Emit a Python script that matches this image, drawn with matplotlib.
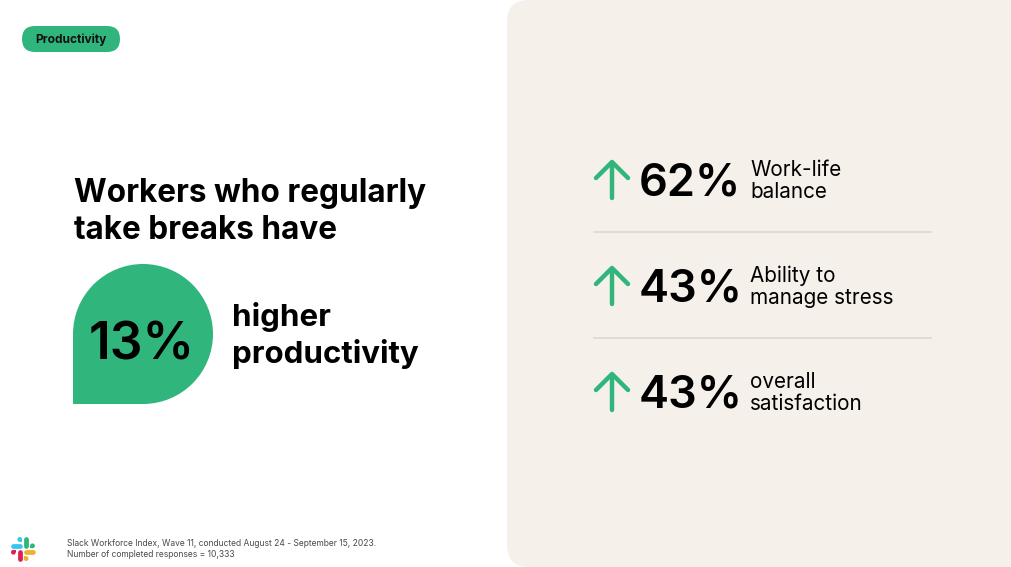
import matplotlib
matplotlib.use("Agg")
import matplotlib.pyplot as plt
from matplotlib.patches import FancyBboxPatch, Circle, Rectangle
from matplotlib.lines import Line2D

# ---- data ----
badge_text = "Productivity"
headline_lines = ["Workers who regularly", "take breaks have"]
headline_value = 13
headline_suffix = ["higher", "productivity"]
stat_values = [62, 43, 43]
stat_labels = [["Work-life", "balance"],
               ["Ability to", "manage stress"],
               ["overall", "satisfaction"]]
footnote_lines = ["Slack Workforce Index, Wave 11, conducted August 24 - September 15, 2023.",
                  "Number of completed responses = 10,333"]

GREEN = "#30B57D"
PANEL = "#F5F0E9"
FONT = ["Inter", "DejaVu Sans"]
plt.rcParams['font.family'] = FONT

W, H = 1012, 567
fig = plt.figure(figsize=(W / 100, H / 100), dpi=100)
ax = fig.add_axes([0, 0, 1, 1])
ax.set_xlim(0, W)
ax.set_ylim(H, 0)
ax.axis("off")
fig.patch.set_facecolor("white")

# right panel
ax.add_patch(FancyBboxPatch((507, 0), 560, H, boxstyle="round,pad=0,rounding_size=22",
                            fc=PANEL, ec="none", zorder=1))

# badge
ax.add_patch(FancyBboxPatch((22, 26), 98, 26, boxstyle="round,pad=0,rounding_size=13",
                            fc=GREEN, ec="none", zorder=2))
ax.text(71, 39.5, badge_text, ha="center", va="center", fontsize=8.6,
        fontweight="bold", color="#111111", zorder=3)

# headline
for i, line in enumerate(headline_lines):
    ax.text(74, 202 + i * 37, line, ha="left", va="baseline", fontsize=22.7,
            fontweight="bold", color="#000000", zorder=3)

# teardrop
cx, cy, r = 143, 334, 70
ax.add_patch(Circle((cx, cy), r, fc=GREEN, ec="none", zorder=2))
ax.add_patch(Rectangle((cx - r, cy), r, r, fc=GREEN, ec="none", zorder=2))
ax.text(cx - 1, 360, f"{headline_value}%", ha="center", va="baseline", fontsize=37,
        fontweight="semibold", color="#000000", zorder=3)
for i, line in enumerate(headline_suffix):
    ax.text(232, 326 + i * 37, line, ha="left", va="baseline", fontsize=22.5,
            fontweight="bold", color="#000000", zorder=3)

# stats
row_gap = 106
for i, (v, lab) in enumerate(zip(stat_values, stat_labels)):
    base = 196 + i * row_gap
    # arrow
    tip = base - 34
    ax.add_line(Line2D([612, 612], [tip + 1, base + 2], color=GREEN, lw=3.2,
                       solid_capstyle="round", zorder=3))
    ax.add_line(Line2D([596, 612, 628], [tip + 16, tip, tip + 16], color=GREEN, lw=3.2,
                       solid_capstyle="round", solid_joinstyle="round", zorder=3))
    ax.text(639, base, f"{v}%", ha="left", va="baseline", fontsize=32.5,
            fontweight="semibold", color="#000000", zorder=3)
    ax.text(750, base - 20, lab[0], ha="left", va="baseline", fontsize=14.9,
            color="#000000", zorder=3)
    ax.text(750, base + 2, lab[1], ha="left", va="baseline", fontsize=14.9,
            color="#000000", zorder=3)
    if i < len(stat_values) - 1:
        sep = base + 36
        ax.add_line(Line2D([594, 931], [sep, sep], color="#DCD8D1", lw=1.2, zorder=2))

# footnote
for i, line in enumerate(footnote_lines):
    ax.text(67, 544 + i * 10.5, line, ha="left", va="center", fontsize=6.1,
            color="#4a4a4a", zorder=3)

# slack logo (54-unit geometry)
s = 24 / 54
ox, oy = 11, 537
def P(x, y):
    return ox + x * s, oy + y * s
rr = 5.376
pw = 2 * rr * s

def pill(x0, y0, x1, y1, c):
    (a, b), (c2, d) = P(x0, y0), P(x1, y1)
    ax.add_line(Line2D([a, c2], [b, d], color=c, lw=pw * 0.72, solid_capstyle="round", zorder=4))

def nub(cx_, cy_, qx, qy, c):
    x, y = P(cx_, cy_)
    ax.add_patch(Circle((x, y), rr * s, fc=c, ec="none", zorder=4))
    ax.add_patch(Rectangle((x if qx > 0 else x - rr * s, y if qy > 0 else y - rr * s),
                           rr * s, rr * s, fc=c, ec="none", zorder=4))

# blue
pill(5.376, 19.884, 19.712, 19.884, "#36C5F0")
nub(19.712, 5.52, 1, 1, "#36C5F0")
# green
pill(34.048, 5.52, 34.048, 19.884, "#2EB67D")
nub(48.384, 19.884, -1, 1, "#2EB67D")
# yellow
pill(34.048, 34.249, 48.384, 34.249, "#ECB22E")
nub(34.048, 48.613, -1, -1, "#ECB22E")
# red
pill(19.712, 34.249, 19.712, 48.613, "#E01E5A")
nub(5.376, 34.249, 1, -1, "#E01E5A")

fig.savefig("out.png", dpi=100, facecolor="white")
